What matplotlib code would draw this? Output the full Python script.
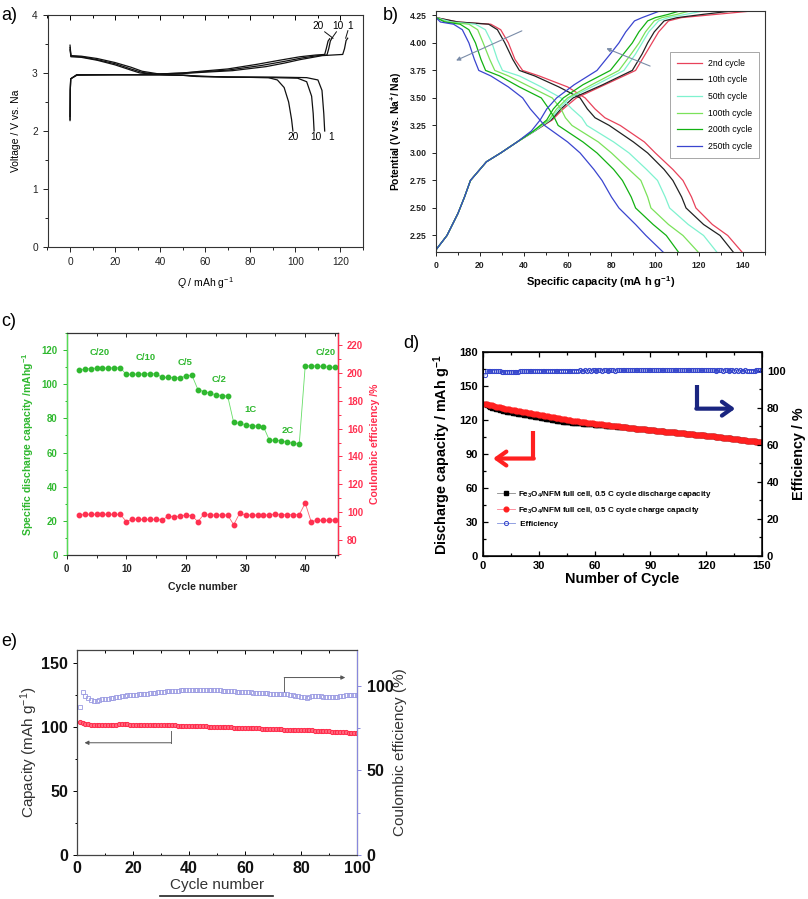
import matplotlib
matplotlib.use("Agg")
import matplotlib.pyplot as plt
from matplotlib.ticker import MultipleLocator, FormatStrFormatter
from matplotlib.lines import Line2D

plt.rcParams["font.family"] = ["Liberation Sans", "DejaVu Sans"]
plt.rcParams["mathtext.fontset"] = "custom"
plt.rcParams["mathtext.rm"] = "Liberation Sans"
plt.rcParams["mathtext.it"] = "Liberation Sans:italic"
plt.rcParams["mathtext.bf"] = "Liberation Sans:bold"

# ---------------- panel a: charge/discharge profiles ----------------
a_cycles = ["1", "10", "20"]
a_up_x = {
    "1": [0, 0.4, 5, 12, 20, 27, 32, 40, 50, 58, 72, 87, 95, 102, 112, 121, 121.8, 122.5, 123.2],
    "10": [0, 0.4, 5, 12, 20, 27, 32, 38, 50, 58, 70, 85, 95, 103, 110, 114, 114.8, 115.5, 116.2],
    "20": [0, 0.4, 5, 12, 20, 27, 31, 37, 50, 58, 70, 83, 93, 102, 109, 113, 113.7, 114.5, 115.2],
}
a_up_y = {
    "1": [3.48, 3.3, 3.29, 3.25, 3.18, 3.1, 3.03, 2.98, 2.99, 3.01, 3.04, 3.11, 3.17, 3.23, 3.3, 3.32, 3.42, 3.56, 3.6],
    "10": [3.44, 3.29, 3.28, 3.23, 3.16, 3.07, 3.01, 2.98, 3.0, 3.02, 3.05, 3.13, 3.2, 3.26, 3.3, 3.31, 3.42, 3.55, 3.6],
    "20": [3.4, 3.28, 3.27, 3.22, 3.14, 3.05, 3.0, 2.98, 3.0, 3.03, 3.07, 3.15, 3.22, 3.28, 3.31, 3.32, 3.42, 3.55, 3.59],
}
a_dn_x = {
    "1": [0, 0.1, 0.3, 3, 20, 40, 52, 58, 70, 90, 105, 110, 111.8, 112.6, 113],
    "10": [0, 0.1, 0.3, 3, 20, 40, 50, 56, 70, 90, 101, 105, 107.2, 107.9, 108.3],
    "20": [0, 0.1, 0.3, 3, 20, 40, 50, 55, 70, 88, 92, 95, 97, 98.3, 98.9],
}
a_dn_y = {
    "1": [2.18, 2.7, 2.9, 2.97, 2.97, 2.97, 2.96, 2.94, 2.93, 2.93, 2.92, 2.88, 2.7, 2.3, 2.0],
    "10": [2.2, 2.7, 2.9, 2.97, 2.97, 2.97, 2.96, 2.94, 2.93, 2.92, 2.91, 2.85, 2.6, 2.3, 2.0],
    "20": [2.25, 2.7, 2.9, 2.96, 2.97, 2.97, 2.96, 2.95, 2.93, 2.92, 2.88, 2.75, 2.5, 2.2, 2.0],
}

# ---------------- panel b: potential profiles ----------------
b_labels = ["2nd cycle", "10th cycle", "50th cycle", "100th cycle", "200th cycle", "250th cycle"]
b_colors = ["#e8425a", "#222222", "#7ff2cf", "#7be25a", "#12b112", "#3a45cf"]
b_dis_y = [4.23, 4.19, 4.17, 4.12, 4.0, 3.85, 3.75, 3.7, 3.6, 3.5, 3.4, 3.32, 3.25,
           3.1, 3.0, 2.85, 2.75, 2.6, 2.5, 2.35, 2.25, 2.10]
b_dis_x = [
    [0, 10, 25, 29.5, 33, 36, 39.5, 47, 60, 68, 72.5, 77, 84, 95, 100, 108, 112.6, 116.5, 118.5, 126, 133, 139.5],
    [0, 10, 24, 28, 31.4, 35, 38, 45, 56, 65.7, 69, 72.5, 79, 90, 96.5, 104, 108, 112, 114, 122, 129.5, 135.5],
    [0, 7, 18, 22.5, 25.5, 28, 30.3, 38, 48, 57, 62, 66.5, 68.8, 81, 88, 96, 101, 104.5, 106.5, 115, 122, 128],
    [0, 5, 15, 19, 21.5, 24.5, 26.8, 33, 43, 53, 57, 59, 62, 74, 80, 88, 93.4, 96.5, 98, 106, 112.6, 119.5],
    [0, 4, 11, 15, 18, 20.5, 22.6, 29, 38, 48, 51.5, 54, 55.7, 67, 73.4, 81, 85, 89, 91, 99, 105, 110.5],
    [0, 2, 8, 12, 15, 17.5, 19.5, 25, 33, 39.5, 43, 46.5, 49.5, 60, 65.7, 72, 75.7, 80, 83.4, 91, 95.7, 103.5],
]
b_chg_y = [2.12, 2.25, 2.45, 2.6, 2.75, 2.92, 3.0, 3.1, 3.2, 3.3, 3.4, 3.5, 3.62,
           3.75, 3.9, 4.0, 4.1, 4.2, 4.23, 4.26, 4.29]
b_chg_x = [
    [0, 5, 10, 13, 15.7, 23, 29.5, 37, 45, 53, 58, 64, 77, 91, 95.5, 98.5, 101.5, 106, 112, 128, 144],
    [0, 5, 10, 13, 15.7, 23, 29.5, 37, 45, 52.5, 57, 62.5, 76, 89.5, 94, 96.5, 99.5, 104, 110, 122, 135],
    [0, 5, 10, 13, 15.7, 23, 29.5, 37, 45, 52, 56, 61, 73, 85.7, 91, 94, 97, 101.5, 106, 114, 122],
    [0, 5, 10, 13, 15.7, 23, 29.5, 37, 44.5, 51.5, 55, 60, 71, 83.4, 89, 92.6, 95.5, 99.5, 103, 110, 115.7],
    [0, 5, 10, 13, 15.7, 23, 29.5, 37, 44.5, 50.5, 53.5, 58, 67, 79.5, 85.5, 89.5, 92.5, 96.5, 100, 106, 111],
    [0, 5, 10, 13, 15.7, 23, 29.5, 37, 43.5, 47.5, 50.5, 55, 63, 73.4, 79.5, 83.4, 86.5, 90.5, 94, 98, 102],
]

# ---------------- panel c: rate capability ----------------
c_cycles = list(range(2, 46))
c_capacity = [108.3, 108.8, 109.2, 109.4, 109.4, 109.4, 109.6, 109.6,
              105.7, 105.9, 105.9, 106.1, 106.1, 106.1,
              104.0, 104.0, 103.8, 103.8, 104.7, 105.3,
              96.9, 95.7, 94.8, 93.8, 93.4, 93.0,
              77.7, 77.1, 76.3, 75.8, 75.4, 75.2,
              67.1, 67.3, 66.8, 66.0, 65.4, 65.0,
              110.6, 110.8, 110.6, 110.4, 110.0, 109.8]
c_ce = [97.5, 98.3, 98.3, 98.3, 98.3, 98.3, 98.3, 98.3,
        93.0, 94.9, 94.6, 94.6, 94.6, 94.6,
        94.2, 97.0, 96.6, 97.0, 97.8, 97.3,
        93.0, 98.3, 97.8, 97.8, 97.8, 97.8,
        90.8, 99.0, 97.8, 97.8, 97.8, 97.8,
        97.8, 98.7, 98.0, 98.0, 98.0, 98.0,
        106.4, 93.0, 94.0, 94.0, 94.0, 94.4]
c_rate_text = ["C/20", "C/10", "C/5", "C/2", "1C", "2C", "C/20"]
c_rate_x = [5.6, 13.2, 19.9, 25.6, 30.9, 37.0, 43.5]
c_rate_y = [118.4, 115.5, 113.0, 102.8, 85.2, 73.0, 118.8]

# ---------------- panel d: full cell cycling ----------------
d_cycles = list(range(1, 151))
d_charge = [
    134.5, 134.1, 133.6, 133.2, 132.8, 132.3, 131.9, 131.5, 131.1, 130.7,
    130.4, 130.1, 129.8, 129.5, 129.2, 128.9, 128.6, 128.3, 128.0, 127.7,
    127.4, 127.1, 126.8, 126.5, 126.2, 125.9, 125.6, 125.3, 125.0, 124.7,
    124.4, 124.1, 123.8, 123.5, 123.2, 122.9, 122.6, 122.3, 122.0, 121.7,
    121.4, 121.1, 120.8, 120.5, 120.2, 119.9, 119.6, 119.3, 119.1, 118.9,
    118.7, 118.5, 118.3, 118.1, 117.9, 117.7, 117.5, 117.3, 117.1, 116.9,
    116.7, 116.5, 116.3, 116.1, 115.9, 115.7, 115.5, 115.3, 115.1, 114.9,
    114.7, 114.5, 114.3, 114.1, 113.9, 113.7, 113.5, 113.3, 113.1, 112.9,
    112.7, 112.5, 112.4, 112.2, 112.0, 111.8, 111.7, 111.5, 111.3, 111.1,
    111.0, 110.8, 110.6, 110.5, 110.3, 110.2, 110.0, 109.8, 109.7, 109.5,
    109.3, 109.2, 109.0, 108.8, 108.7, 108.5, 108.4, 108.2, 108.0, 107.9,
    107.7, 107.6, 107.4, 107.2, 107.1, 106.9, 106.8, 106.6, 106.5, 106.3,
    106.1, 105.9, 105.7, 105.5, 105.3, 105.1, 104.9, 104.7, 104.5, 104.3,
    104.1, 103.9, 103.7, 103.5, 103.3, 103.1, 102.9, 102.7, 102.5, 102.3,
    102.1, 101.9, 101.7, 101.5, 101.4, 101.2, 101.0, 100.9, 100.8, 100.7]
d_discharge = [
    133.8, 133.0, 132.3, 131.6, 131.0, 130.4, 129.8, 129.3, 128.8, 128.4,
    128.0, 127.7, 127.4, 127.1, 126.8, 126.5, 126.2, 125.9, 125.6, 125.3,
    125.0, 124.7, 124.4, 124.1, 123.8, 123.5, 123.2, 122.9, 122.6, 122.3,
    122.0, 121.7, 121.4, 121.1, 120.8, 120.5, 120.2, 119.9, 119.6, 119.3,
    119.0, 118.8, 118.6, 118.4, 118.2, 118.0, 117.9, 117.7, 117.6, 117.4,
    117.3, 117.1, 117.0, 116.8, 116.7, 116.5, 116.4, 116.2, 116.1, 115.9,
    115.8, 115.6, 115.5, 115.3, 115.2, 115.0, 114.9, 114.7, 114.6, 114.4,
    114.3, 114.1, 114.0, 113.8, 113.7, 113.5, 113.4, 113.2, 113.1, 112.9,
    112.7, 112.5, 112.4, 112.2, 112.0, 111.8, 111.7, 111.5, 111.3, 111.1,
    111.0, 110.8, 110.6, 110.5, 110.3, 110.2, 110.0, 109.8, 109.7, 109.5,
    109.3, 109.2, 109.0, 108.8, 108.7, 108.5, 108.4, 108.2, 108.0, 107.9,
    107.7, 107.6, 107.4, 107.2, 107.1, 106.9, 106.8, 106.6, 106.5, 106.3,
    106.1, 105.9, 105.7, 105.5, 105.3, 105.1, 104.9, 104.7, 104.5, 104.3,
    104.1, 103.9, 103.7, 103.5, 103.3, 103.1, 102.9, 102.7, 102.5, 102.3,
    102.1, 101.9, 101.7, 101.5, 101.4, 101.2, 101.0, 100.9, 100.8, 100.7]
d_eff = [
    97.4, 99.6, 99.9, 100.0, 99.9, 99.8, 99.7, 99.6, 99.5, 99.4,
    99.3, 99.3, 99.2, 99.2, 99.1, 99.1, 99.2, 99.3, 99.4, 99.5,
    99.5, 99.6, 99.6, 99.7, 99.7, 99.7, 99.8, 99.8, 99.8, 99.8,
    99.9, 99.8, 99.9, 99.9, 99.8, 99.9, 99.9, 99.9, 99.8, 99.9,
    99.9, 100.0, 99.9, 99.9, 100.0, 99.9, 100.0, 100.0, 99.9, 100.0,
    100.0, 100.1, 100.0, 100.0, 100.1, 100.0, 100.1, 100.0, 100.1, 100.1,
    100.0, 100.1, 100.1, 100.0, 100.1, 100.1, 100.0, 100.1, 100.1, 100.1,
    100.0, 100.1, 100.1, 100.2, 100.1, 100.1, 100.2, 100.1, 100.1, 100.2,
    100.1, 100.1, 100.2, 100.1, 100.1, 100.1, 100.2, 100.1, 100.1, 100.2,
    100.1, 100.1, 100.1, 100.2, 100.1, 100.1, 100.1, 100.2, 100.1, 100.1,
    100.1, 100.1, 100.2, 100.1, 100.1, 100.1, 100.1, 100.2, 100.1, 100.1,
    100.1, 100.1, 100.1, 100.2, 100.1, 100.1, 100.1, 100.1, 100.1, 100.2,
    100.1, 100.1, 100.1, 100.1, 100.0, 100.1, 100.1, 100.1, 100.0, 100.1,
    100.1, 100.0, 100.1, 100.1, 100.0, 100.1, 100.0, 100.1, 100.0, 100.0,
    100.1, 100.0, 100.0, 99.9, 100.0, 100.0, 100.1, 100.1, 100.2, 100.3]
d_legend = [r"Fe$_\mathbf{3}$O$_\mathbf{4}$/NFM full cell, 0.5 C cycle discharge capacity",
            r"Fe$_\mathbf{3}$O$_\mathbf{4}$/NFM full cell, 0.5 C cycle charge capacity",
            " Efficiency"]

# ---------------- panel e: long cycling ----------------
e_cycles = list(range(1, 101))
e_capacity = [
    103.5, 102.8, 102.3, 101.9, 101.7, 101.6, 101.6, 101.6, 101.7, 101.7,
    101.8, 101.8, 101.8, 101.8, 101.9, 101.9, 101.9, 101.9, 101.8, 101.8,
    101.8, 101.8, 101.7, 101.7, 101.6, 101.6, 101.5, 101.5, 101.4, 101.4,
    101.3, 101.3, 101.2, 101.1, 101.1, 101.0, 100.9, 100.9, 100.8, 100.7,
    100.6, 100.6, 100.5, 100.4, 100.3, 100.3, 100.2, 100.1, 100.0, 99.9,
    99.9, 99.8, 99.7, 99.7, 99.6, 99.5, 99.5, 99.4, 99.3, 99.3,
    99.2, 99.1, 99.0, 98.9, 98.8, 98.7, 98.6, 98.5, 98.4, 98.3,
    98.2, 98.1, 98.0, 97.9, 97.9, 97.8, 97.8, 97.7, 97.6, 97.6,
    97.5, 97.4, 97.3, 97.2, 97.1, 96.9, 96.8, 96.7, 96.5, 96.4,
    96.3, 96.1, 96.0, 95.9, 95.8, 95.7, 95.6, 95.5, 95.4, 95.4]
e_ce = [
    87.4, 96.0, 93.8, 92.5, 91.6, 90.8, 90.9, 91.4, 91.8, 92.1,
    92.3, 92.5, 92.8, 93.0, 93.3, 93.6, 93.9, 94.2, 94.4, 94.6,
    94.7, 94.8, 94.9, 95.1, 95.3, 95.5, 95.7, 95.9, 96.1, 96.3,
    96.4, 96.6, 96.7, 96.8, 96.9, 97.0, 97.1, 97.1, 97.2, 97.2,
    97.2, 97.3, 97.3, 97.3, 97.3, 97.3, 97.3, 97.3, 97.2, 97.2,
    97.1, 97.0, 96.9, 96.8, 96.7, 96.6, 96.5, 96.4, 96.3, 96.2,
    96.1, 96.0, 95.9, 95.8, 95.7, 95.6, 95.5, 95.4, 95.3, 95.2,
    95.1, 95.0, 95.0, 94.9, 94.8, 94.6, 94.3, 94.0, 93.6, 93.3,
    93.0, 92.9, 93.3, 93.7, 93.9, 93.8, 93.6, 93.4, 93.2, 93.1,
    93.1, 93.2, 93.4, 93.6, 93.9, 94.2, 94.5, 94.6, 94.7, 94.7]

W, H = 808, 899
fig = plt.figure(figsize=(W / 100, H / 100), dpi=100)


def px_axes(l, t, r, b):
    return fig.add_axes([l / W, 1 - b / H, (r - l) / W, (b - t) / H])


def fig_text(x, y, s, **kw):
    fig.text(x / W, 1 - y / H, s, **kw)


# ======== a ========
ax = px_axes(47.5, 15, 363, 247)
for c in a_cycles:
    ax.plot(a_up_x[c], a_up_y[c], color="#111111", lw=0.9)
    ax.plot(a_dn_x[c], a_dn_y[c], color="#111111", lw=0.9)
ax.set_xlim(-10, 130)
ax.set_ylim(0, 4)
ax.xaxis.set_major_locator(MultipleLocator(20))
ax.xaxis.set_minor_locator(MultipleLocator(10))
ax.yaxis.set_major_locator(MultipleLocator(1))
ax.yaxis.set_minor_locator(MultipleLocator(0.5))
ax.tick_params(which="both", direction="out", width=0.7, labelsize=7.3, colors="#222222")
ax.tick_params(which="major", length=3.5)
ax.tick_params(which="minor", length=2)
top = ax.secondary_xaxis("top")
top.xaxis.set_major_locator(MultipleLocator(20))
top.xaxis.set_minor_locator(MultipleLocator(10))
top.tick_params(which="both", direction="in", labeltop=False, width=0.7)
top.tick_params(which="major", length=3.5)
top.tick_params(which="minor", length=2)
for s in ax.spines.values():
    s.set_linewidth(0.8)
    s.set_color("#333333")
top.spines["top"].set_visible(False)
ax.set_xlabel("$Q$ / mAh g$^{-1}$", fontsize=7.5, labelpad=6)
ax.set_ylabel("Voltage / V vs. Na", fontsize=7.5, labelpad=8)
for s, x in zip(["20", "10", "1"], [110, 118.9, 124.4]):
    ax.text(x, 3.81, s, fontsize=7.3, ha="center", va="center")
ax.plot([113, 116.7], [3.71, 3.60], color="#111111", lw=0.7)
ax.plot([118.2, 116.2], [3.71, 3.60], color="#111111", lw=0.7)
ax.plot([123.3, 122.3], [3.73, 3.60], color="#111111", lw=0.7)
for s, x in zip(["20", "10", "1"], [98.8, 109.3, 116]):
    ax.text(x, 1.9, s, fontsize=7.3, ha="center", va="center")

# ======== b ========
ax = px_axes(436, 11, 765, 252)
for i in range(len(b_labels)):
    ax.plot(b_dis_x[i], b_dis_y, color=b_colors[i], lw=0.9, label=b_labels[i])
    ax.plot(b_chg_x[i], b_chg_y, color=b_colors[i], lw=0.9)
ax.set_xlim(0, 150)
ax.set_ylim(2.10, 4.29)
ax.xaxis.set_major_locator(MultipleLocator(20))
ax.xaxis.set_minor_locator(MultipleLocator(10))
ax.yaxis.set_major_locator(MultipleLocator(0.25))
ax.yaxis.set_major_formatter(FormatStrFormatter("%.2f"))
ax.tick_params(which="both", direction="out", width=0.7, labelsize=6.2, colors="#222222")
ax.tick_params(which="major", length=3)
ax.tick_params(which="minor", length=1.8)
for t in ax.get_xticklabels() + ax.get_yticklabels():
    t.set_fontweight("bold")
for s in ax.spines.values():
    s.set_linewidth(0.8)
    s.set_color("#333333")
ax.set_xlabel("Specific capacity (mA h g$^\\mathbf{-1}$)", fontsize=8, fontweight="bold", labelpad=3)
ax.set_ylabel("Potential (V vs. Na$^\\mathbf{+}$/ Na)", fontsize=7.5, fontweight="bold", labelpad=4)
ax.annotate("", xy=(8, 3.83), xytext=(40.3, 4.12),
            arrowprops=dict(arrowstyle="-|>", color="#7a8ca8", lw=0.8, mutation_scale=6))
ax.annotate("", xy=(76.5, 3.96), xytext=(98.8, 3.78),
            arrowprops=dict(arrowstyle="-|>", color="#7a8ca8", lw=0.8, mutation_scale=6))
leg = ax.legend(loc="upper left", bbox_to_anchor=(0.711, 0.83), borderaxespad=0, fontsize=6.2,
                handlelength=2.9, labelspacing=0.88, borderpad=0.8, handletextpad=0.7,
                fancybox=False, framealpha=1)
leg.get_frame().set_edgecolor("#999999")
leg.get_frame().set_linewidth(0.6)

# ======== c ========
green = "#2fb82f"
green_ax = "#55dd55"
red = "#ff3050"
ax = px_axes(66.7, 333, 338, 555)
ax2 = ax.twinx()
ax.plot(c_cycles, c_capacity, color="#66dd66", lw=0.6, marker="o", ms=3.2,
        mfc=green, mec=green)
ax2.plot(c_cycles, c_ce, color="#ff6070", lw=0.6, marker="o", ms=3.2, mfc=red, mec=red)
for s, x, y in zip(c_rate_text, c_rate_x, c_rate_y):
    ax.text(x, y, s, color=green, fontsize=6.8, fontweight="bold", ha="center", va="center")
ax.set_xlim(0, 45.5)
ax.set_ylim(0, 130)
ax2.set_ylim(69, 229)
ax.xaxis.set_major_locator(MultipleLocator(10))
ax.xaxis.set_minor_locator(MultipleLocator(5))
ax.yaxis.set_major_locator(MultipleLocator(20))
ax.yaxis.set_minor_locator(MultipleLocator(10))
ax2.yaxis.set_major_locator(MultipleLocator(20))
ax2.yaxis.set_minor_locator(MultipleLocator(10))
ax.tick_params(which="both", direction="out", width=0.7, labelsize=6.9)
ax.tick_params(axis="y", which="both", colors=green)
ax.tick_params(axis="x", which="both", colors="#222222")
ax2.tick_params(which="both", direction="out", width=0.7, labelsize=6.9, colors=red)
for a_ in (ax, ax2):
    a_.tick_params(which="major", length=3)
    a_.tick_params(which="minor", length=1.8)
for t in ax.get_xticklabels() + ax.get_yticklabels() + ax2.get_yticklabels():
    t.set_fontweight("bold")
top = ax.secondary_xaxis("top")
top.xaxis.set_major_locator(MultipleLocator(10))
top.xaxis.set_minor_locator(MultipleLocator(5))
top.tick_params(which="both", direction="in", labeltop=False, width=0.7, colors="#222222")
top.tick_params(which="major", length=3)
top.tick_params(which="minor", length=1.8)
top.spines["top"].set_visible(False)
for s in ax.spines.values():
    s.set_linewidth(0.8)
ax2.spines["left"].set_color(green_ax)
ax2.spines["right"].set_color(red)
ax2.spines["left"].set_linewidth(1.0)
ax2.spines["right"].set_linewidth(1.0)
ax2.spines["top"].set_color("#333333")
ax2.spines["bottom"].set_color("#333333")
ax.set_xlabel("Cycle number", fontsize=7.6, fontweight="bold", color="#222222", labelpad=6)
ax.set_ylabel("Specific discharge capacity /mAhg$^\\mathbf{-1}$", fontsize=7.6,
              fontweight="bold", color=green, labelpad=4)
ax2.set_ylabel("Coulombic efficiency /%", fontsize=7.6, fontweight="bold", color=red,
               labelpad=5)

# ======== d ========
ax = px_axes(483, 352, 762, 556)
ax2 = ax.twinx()
ax.plot(d_cycles, d_discharge, color="#888888", lw=0.6, marker="s", ms=3, mfc="black",
        mec="black", label=d_legend[0])
ax.plot(d_cycles, d_charge, color="#ff8090", lw=0.6, marker="o", ms=3.4, mfc="#ff2020",
        mec="#ff2020", label=d_legend[1])
ax2.plot(d_cycles, d_eff, color="#8090dd", lw=0.6, marker="o", ms=3, mfc="none",
         mec="#3344cc", mew=0.7, label=d_legend[2])
ax.set_xlim(0, 150)
ax.set_ylim(0, 180)
ax2.set_ylim(0, 110)
ax.xaxis.set_major_locator(MultipleLocator(30))
ax.xaxis.set_minor_locator(MultipleLocator(15))
ax.yaxis.set_major_locator(MultipleLocator(30))
ax.yaxis.set_minor_locator(MultipleLocator(15))
ax2.yaxis.set_major_locator(MultipleLocator(20))
ax2.yaxis.set_minor_locator(MultipleLocator(10))
ax.tick_params(which="both", direction="in", width=0.9, labelsize=8, top=True)
ax2.tick_params(which="both", direction="in", width=0.9, labelsize=8)
for a_ in (ax, ax2):
    a_.tick_params(which="major", length=3.5)
    a_.tick_params(which="minor", length=2)
for t in ax.get_xticklabels() + ax.get_yticklabels() + ax2.get_yticklabels():
    t.set_fontweight("bold")
for s in ax2.spines.values():
    s.set_linewidth(1.1)
ax.set_xlabel("Number of Cycle", fontsize=10.4, fontweight="bold", labelpad=1)
ax.set_ylabel("Discharge capacity / mAh g$^\\mathbf{-1}$", fontsize=10.4, fontweight="bold",
              labelpad=5)
ax2.set_ylabel("Efficiency / %", fontsize=10.4, fontweight="bold", labelpad=5)
ax.plot([27, 27], [110, 86], color="#ff2020", lw=3, solid_capstyle="butt")
ax.annotate("", xy=(5.4, 86), xytext=(27.3, 86),
            arrowprops=dict(arrowstyle="->,head_length=0.7,head_width=0.5", color="#ff2020",
                            lw=3, shrinkA=0, shrinkB=0))
ax.plot([115, 115], [150.6, 130], color="#1a2580", lw=3, solid_capstyle="butt")
ax.annotate("", xy=(135.6, 130), xytext=(114.7, 130),
            arrowprops=dict(arrowstyle="->,head_length=0.7,head_width=0.5", color="#1a2580",
                            lw=3, shrinkA=0, shrinkB=0))
h1, l1 = ax.get_legend_handles_labels()
h2, l2 = ax2.get_legend_handles_labels()
ax.legend(h1 + h2, l1 + l2, loc="upper left", bbox_to_anchor=(0.04, 0.345), borderaxespad=0,
          frameon=False, prop=dict(size=5.8, weight="bold"), handlelength=2.2,
          labelspacing=0.6, handletextpad=0.4)

# ======== e ========
ax = px_axes(77, 650, 357, 855)
ax2 = ax.twinx()
ax.plot(e_cycles, e_capacity, ls="none", marker="o", ms=3, mfc="#ff6a80", mec="#ff2848",
        mew=0.7)
ax2.plot(e_cycles, e_ce, ls="none", marker="s", ms=2.8, mfc="none", mec="#9a9ae2", mew=0.6)
ax.set_xlim(0, 100)
ax.set_ylim(0, 160)
ax2.set_ylim(0, 121)
ax.xaxis.set_major_locator(MultipleLocator(20))
ax.xaxis.set_minor_locator(MultipleLocator(10))
ax.yaxis.set_major_locator(MultipleLocator(50))
ax.yaxis.set_minor_locator(MultipleLocator(25))
ax2.yaxis.set_major_locator(MultipleLocator(50))
ax2.yaxis.set_minor_locator(MultipleLocator(25))
ax.tick_params(axis="x", which="both", direction="in", top=True, width=0.7)
ax.tick_params(axis="y", which="both", direction="out", width=0.7)
ax2.tick_params(which="both", direction="out", width=0.7, colors="#8888dd")
for a_ in (ax, ax2):
    a_.tick_params(which="major", length=3, labelsize=11.5, labelcolor="#111111")
    a_.tick_params(which="minor", length=1.8)
ax.tick_params(axis="x", pad=4)
ax2.tick_params(axis="y", pad=4)
for t in ax.get_xticklabels() + ax.get_yticklabels() + ax2.get_yticklabels():
    t.set_fontweight("bold")
for s in ax2.spines.values():
    s.set_linewidth(0.8)
    s.set_color("#444444")
ax2.spines["right"].set_color("#8888dd")
ax.set_xlabel("Cycle number", fontsize=11, color="#333333", labelpad=2)
ax.set_ylabel("Capacity (mAh g$^{-1}$)", fontsize=11, color="#333333", labelpad=1)
ax2.set_ylabel("Coulombic efficiency (%)", fontsize=11, color="#333333", labelpad=0)
ax.plot([33.5, 33.5], [97, 87.6], color="#666666", lw=0.7)
ax.annotate("", xy=(2.7, 87.6), xytext=(33.6, 87.6),
            arrowprops=dict(arrowstyle="-|>", color="#555555", lw=0.7, mutation_scale=6,
                            shrinkA=0, shrinkB=0))
ax.plot([74.1, 74.1], [127.4, 138.5], color="#666666", lw=0.7)
ax.annotate("", xy=(95.8, 138.5), xytext=(74.0, 138.5),
            arrowprops=dict(arrowstyle="-|>", color="#555555", lw=0.7, mutation_scale=6,
                            shrinkA=0, shrinkB=0))
fig.add_artist(Line2D([160 / W, 273 / W], [1 - 896 / H, 1 - 896 / H], color="#222222", lw=1.2))

# panel letters
fig_text(1, 15, "a)", fontsize=13, va="center")
fig_text(383, 15, "b)", fontsize=13, va="center")
fig_text(1, 322, "c)", fontsize=13, va="center")
fig_text(403, 344, "d)", fontsize=13, va="center")
fig_text(1, 641, "e)", fontsize=13, va="center")

fig.savefig("out.png", dpi=100)
print("Saved out.png")
